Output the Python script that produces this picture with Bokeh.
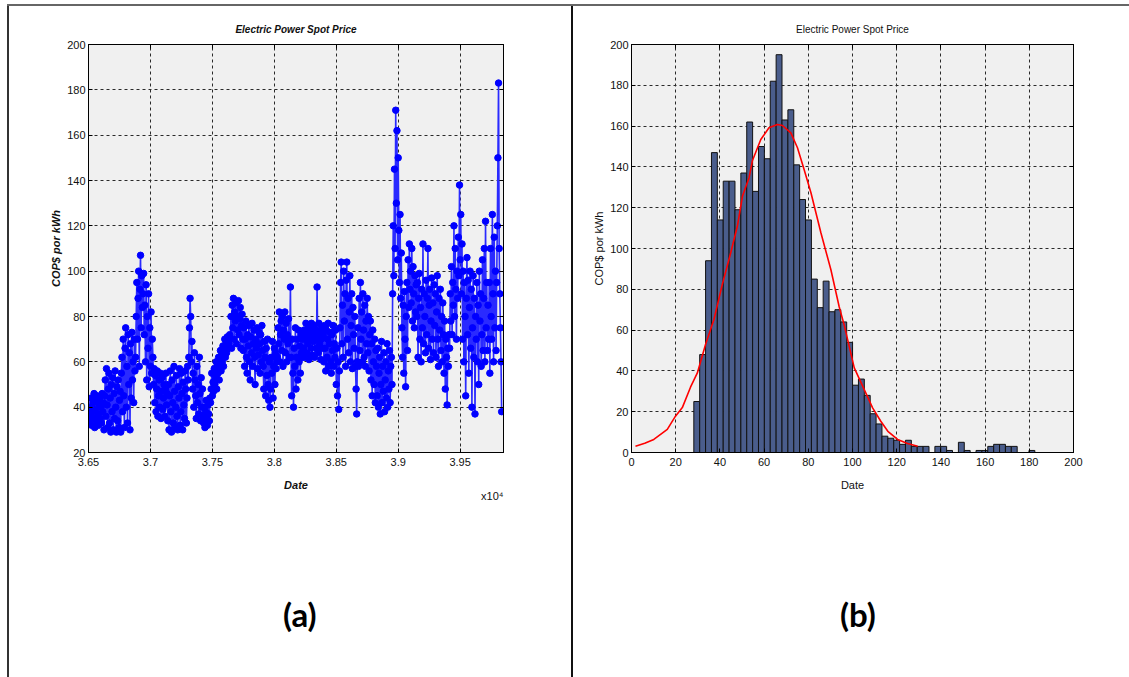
from bokeh.plotting import figure
from bokeh.models import Range1d, FixedTicker, LinearAxis, Div, Spacer, Title
from bokeh.layouts import row, column
from bokeh.embed import file_html
from bokeh.resources import INLINE
import numpy as np

# ---------------------------------------------------------------
# Panel (a): electricity spot price, COP$ per kWh, one reading every five days
# ---------------------------------------------------------------
price = [
    # 2000
    33, 40, 36, 44, 32, 38, 42, 35, 46, 31, 39, 43, 34, 45, 37, 32, 41, 44, 35, 40, 33, 46, 38, 42,
    30, 45, 52, 36, 57, 41, 31, 48, 55, 33, 44, 29, 50, 38, 53, 30, 46, 35, 56, 40, 29, 49, 34, 52, 31, 43, 47,
    29, 55, 62, 38, 70, 45, 31, 66, 75, 40, 58, 33, 72, 50, 64, 30, 68, 44, 73, 52, 60, 42, 70, 56,
    62, 80, 95, 70, 88, 100, 58, 92, 107, 75, 98, 84, 90,
    99, 72, 85, 60, 94, 52, 80, 66, 90, 49, 75, 58, 82, 55, 70, 62,
    50, 57, 42, 54, 38, 48, 56, 36, 45, 52, 40, 55, 35, 47, 53, 39, 44, 50, 36, 48, 55, 41, 46,
    # 2001
    34, 50, 30, 45, 56, 38, 29, 52, 42, 33, 58, 47, 31, 40, 54, 36, 30, 49, 44, 57, 32, 38, 55, 46, 30,
    51, 41, 35, 56, 48, 33, 44, 58, 52, 62, 75, 88,
    80, 60, 69, 48, 55, 40, 64, 52, 45, 35, 58, 42, 50, 37, 62, 46, 34, 53, 40, 48, 36,
    33, 40, 31, 38, 43, 35, 32, 41, 37, 34, 44,
    # 2002
    42, 48, 55, 45, 51, 47, 57, 50, 53, 60, 48, 58, 55, 62, 52, 59, 65, 56, 63, 60, 67, 58, 66, 70, 62,
    68, 64, 71, 66, 70, 68, 72,
    70, 80, 66, 85, 75, 88, 70, 82, 78, 86, 68, 80, 74, 87, 72, 79, 84, 66, 76, 81, 70,
    65, 75, 58, 70, 78, 62, 55, 72, 67, 76, 60, 52, 71, 64, 77, 58, 68, 74, 62, 50, 70, 66, 75, 57,
    63, 73, 68, 55, 72, 60, 76, 65, 58, 48, 69, 62, 45, 66, 54, 70, 50, 43, 60, 40,
    # 2003
    48, 62, 55, 69, 44, 58, 66, 50, 64, 57, 60,
    62, 75, 68, 82, 60, 72, 78, 65, 80, 58, 74, 70, 82, 64, 77, 60, 72, 68, 79, 62, 70,
    93, 62, 45, 70, 55, 40, 66, 58, 75, 48, 62, 70, 52, 74, 60, 67, 55, 72, 64, 70, 62,
    # 2004
    66, 74, 62, 70, 77, 64, 72, 68, 75, 61, 70, 74, 66, 77, 63, 72, 69, 76, 62, 70, 74, 66, 93, 72,
    64, 77, 68, 73, 61, 70, 75, 66,
    72, 60, 76, 66, 56, 74, 62, 70, 77, 58, 68, 73, 60, 55, 72, 65, 76, 58, 68, 62, 74, 50, 66, 45,
    60, 39, 56,
    # 2005
    75, 95, 104, 68, 85, 62, 100, 78, 90, 58, 96, 104, 70, 88, 64, 82, 98, 60, 76, 90, 57, 84, 72,
    66, 80, 58, 48,
    37, 60, 75, 58, 88, 65, 95, 70, 82, 60, 90, 74, 62, 85, 58, 78, 68, 88, 64, 80, 56, 72, 78, 52,
    68, 45, 74, 60, 50, 70, 42, 65,
    # 2006
    58, 45, 66, 40, 55, 62, 37, 50, 69, 42, 58, 47, 64, 38, 52, 60, 44, 68, 40, 56, 48, 65, 42, 58,
    62, 50,
    90, 120, 98, 145, 110, 171, 130, 162, 105, 150, 118, 95, 125, 88, 108, 75,
    62, 85, 55, 91, 70, 49, 80, 95, 65, 105, 84, 112, 92, 100, 86, 110, 78, 102, 90, 75, 98, 82, 94,
    # 2007
    80, 95, 62, 88, 99, 70, 84, 60, 92, 75, 112, 68, 90, 80, 64, 96, 72, 88, 110, 66, 85, 92, 61, 78,
    97, 70, 86, 64, 94, 76, 90, 62, 82, 98, 70, 58, 88, 74, 92, 65, 80, 60, 86, 72, 55, 78, 48, 70,
    62, 41, 66, 58, 72,
    66, 90, 78, 102, 72, 95, 85, 120, 80, 110, 92, 70, 100, 88, 115, 98,
    # 2008
    138, 105, 125, 90, 112, 70, 100, 60, 95, 80, 45, 88, 106, 72, 96, 55, 84, 100, 66, 92, 40, 75,
    98, 62, 88, 37, 80, 70, 95, 60, 85, 50, 100, 78, 90, 58, 72, 105, 65, 88, 110, 60, 122, 75, 95,
    65, 85, 70,
    95, 55, 110, 80, 70, 125, 90, 60, 115, 75, 100, 65, 95, 120, 150, 183, 110, 90, 75, 60, 38,
]
first_day = 36505   # serial date numbers
last_day = 39835
day = np.linspace(first_day, last_day, len(price))

date_ticks = [36500, 37000, 37500, 38000, 38500, 39000, 39500]
date_tick_labels = ["3.65", "3.7", "3.75", "3.8", "3.85", "3.9", "3.95"]
price_ticks = [20, 40, 60, 80, 100, 120, 140, 160, 180, 200]

# ---------------------------------------------------------------
# Panel (b): histogram of the spot price and its fitted density curve
# ---------------------------------------------------------------
bin_first = 28.2
bin_last = 182.5
counts = [
    25, 48, 94, 147, 114, 133, 133, 119, 137, 162,
    128, 150, 144, 182, 195, 163, 168, 141, 124, 114,
    85, 71, 84, 69, 70, 64, 54, 33, 36, 28,
    19, 14, 8, 7, 6, 4, 6, 3, 3, 3,
    0, 3, 3, 1, 0, 5, 1, 0, 1, 1,
    3, 4, 4, 3, 3, 0, 0, 1,
]
fit_x = [1.8, 6, 10.1, 16.2, 19.9, 23, 26.7, 29.8, 33.5, 37.3, 41.1, 44.9, 47.9,
         50.2, 53.2, 54.7, 58.5, 62.2, 66, 68.3, 72.1, 75.1, 78.1, 81.2, 85.7,
         90.2, 94, 96.2, 100.8, 104.6, 109.1, 112.8, 116, 120.4, 124.9, 129.5]
fit_y = [3.1, 4.5, 6.4, 11.3, 17.8, 22, 32, 39, 52.9, 65.2, 82.4, 97.9, 110.9,
         125.6, 134.7, 143, 153.4, 159.2, 160.8, 160.3, 156.7, 149.4, 138.7, 127.3, 107.7,
         89.7, 71.3, 62.7, 41.5, 32.5, 21.9, 15.3, 10.4, 6.4, 4.4, 3.1]
hist_ticks = [0, 20, 40, 60, 80, 100, 120, 140, 160, 180, 200]

FONT = "Liberation Sans"
TITLE = "Electric Power Spot Price"


def style_axes(p, xticks, yticks, emphasis, x_overrides=None):
    for ax in p.xaxis + p.yaxis:
        ax.major_tick_in = 4
        ax.major_tick_out = 0
        ax.minor_tick_line_color = None
        ax.axis_line_color = "black"
        ax.major_tick_line_color = "black"
        ax.major_label_text_font = FONT
        ax.major_label_text_font_size = "11px"
        ax.major_label_text_color = "#111111"
        ax.axis_label_text_font = FONT
        ax.axis_label_text_font_size = "11px"
        ax.axis_label_text_color = "#111111"
        ax.axis_label_text_font_style = "bold italic" if emphasis else "normal"
    if x_overrides:
        p.xaxis.major_label_overrides = x_overrides
    p.xaxis.ticker = FixedTicker(ticks=xticks)
    p.yaxis.ticker = FixedTicker(ticks=yticks)
    p.xaxis.major_label_standoff = 5
    p.yaxis.major_label_standoff = 3
    p.xaxis.axis_label_standoff = 10
    p.yaxis.axis_label_standoff = 2
    p.grid.grid_line_color = "#2a2a2a"
    p.grid.grid_line_dash = "3 3"
    p.grid.grid_line_width = 1
    p.outline_line_color = "black"
    p.outline_line_width = 1
    # mirrored inward ticks on the top and right edges of the box
    for side, ticks in (("above", xticks), ("right", yticks)):
        ax = LinearAxis(ticker=FixedTicker(ticks=ticks), major_tick_in=4, major_tick_out=0,
                        minor_tick_line_color=None, major_label_text_font_size="1px",
                        major_label_text_color=None, major_label_standoff=0,
                        axis_line_color="black")
        p.add_layout(ax, side)
    p.title.align = "center"
    p.title.text_font = FONT
    p.title.text_font_size = "10px"
    p.title.text_color = "#111111"
    p.title.text_font_style = "bold italic" if emphasis else "normal"
    p.title.standoff = 19


# ---------------- panel (a) ----------------
pa = figure(frame_width=415, frame_height=408,
            min_border_left=79, min_border_right=68, min_border_top=38, min_border_bottom=60,
            x_range=Range1d(36500, 39850), y_range=Range1d(20, 200),
            background_fill_color="#f0f0f0", border_fill_color="white",
            title=TITLE, output_backend="svg", toolbar_location=None)
pa.line(day, price, line_color="#2a2aff", line_width=1.6)
pa.scatter(day, price, size=6.5, fill_color="#0000ff", line_color="#0000ff")
pa.xaxis.axis_label = "Date"
pa.yaxis.axis_label = "COP$ por kWh"
style_axes(pa, date_ticks, price_ticks, True, dict(zip(date_ticks, date_tick_labels)))
pa.add_layout(Title(text="x10\u2074", align="right", text_font=FONT, text_font_size="11px",
                    text_font_style="normal", text_color="#111111", standoff=-16), "below")

# ---------------- panel (b) ----------------
pb = figure(frame_width=442, frame_height=408,
            min_border_left=58, min_border_right=56, min_border_top=38, min_border_bottom=60,
            x_range=Range1d(0, 200), y_range=Range1d(0, 200),
            background_fill_color="#f0f0f0", border_fill_color="white",
            title=TITLE, output_backend="svg", toolbar_location=None)
edges = np.linspace(bin_first, bin_last, len(counts) + 1)
pb.quad(left=edges[:-1], right=edges[1:], bottom=0, top=counts,
        fill_color="#4a5d8c", line_color="#111111", line_width=1)
pb.line(fit_x, fit_y, line_color="#ff0000", line_width=1.6)
pb.xaxis.axis_label = "Date"
pb.yaxis.axis_label = "COP$ por kWh"
style_axes(pb, hist_ticks, hist_ticks, False)


# ---------------- panel tags and page frame ----------------
TAG_STYLE = {"font-family": "Lato, sans-serif", "font-size": "33px", "font-weight": "bold",
             "line-height": "40px", "color": "#000000"}


def panel_tag(txt, w, left):
    label = Div(text=txt, width=70, height=42, margin=0, styles=TAG_STYLE)
    return column(Spacer(width=w, height=82, margin=0),
                  row(Spacer(width=left, height=42, margin=0), label,
                      Spacer(width=w - left - 70, height=42, margin=0), spacing=0),
                  Spacer(width=w, height=41, margin=0),
                  spacing=0)


def rule(w, h, color):
    return Div(text="", width=w, height=h, margin=0, styles={"background-color": color})


top_band = column(Spacer(width=1129, height=4, margin=0),
                  row(Spacer(width=7, height=2, margin=0), rule(1122, 2, "#666666"), spacing=0),
                  spacing=0)
body = row(Spacer(width=7, height=671, margin=0), rule(2, 671, "#333333"),
           column(pa, panel_tag("(a)", 562, 274), spacing=0),
           rule(2, 671, "#111111"),
           column(pb, panel_tag("(b)", 556, 267), spacing=0),
           spacing=0)
page = column(top_band, body, spacing=0)

open("out.html", "w").write(file_html(page, INLINE))
